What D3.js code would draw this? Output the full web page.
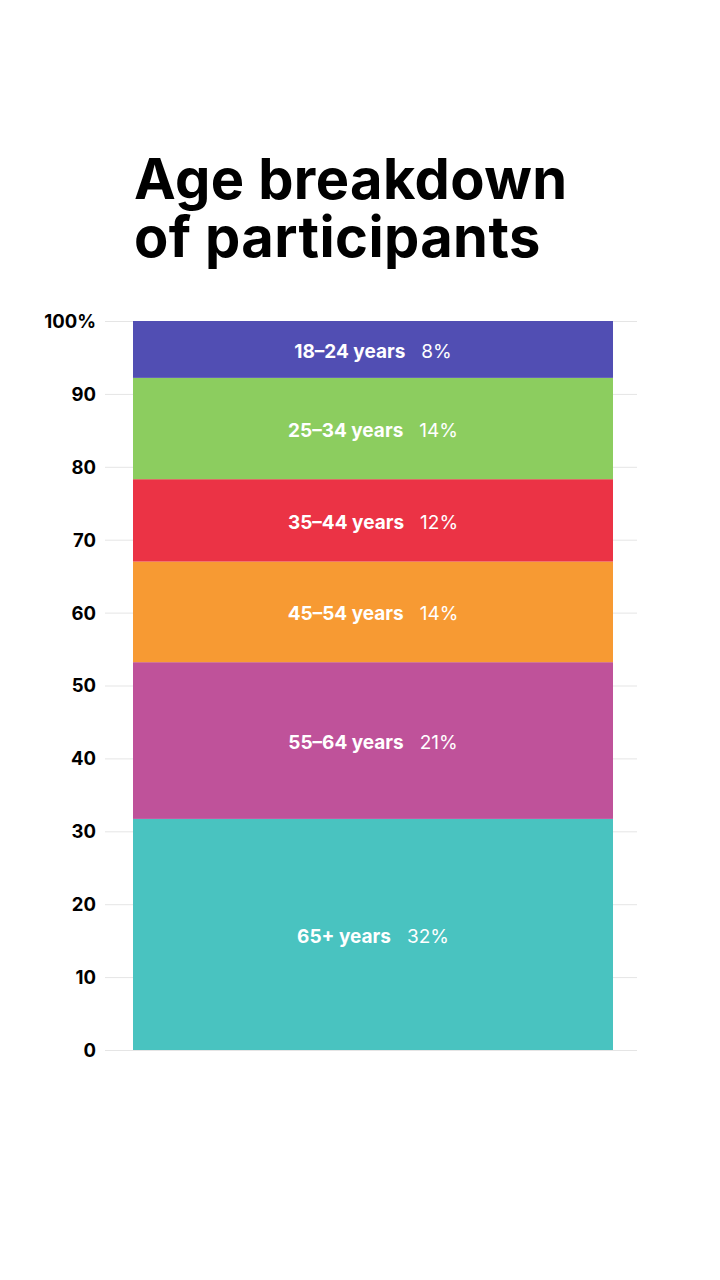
<!DOCTYPE html>
<html><head><meta charset="utf-8">
<script src="https://cdn.jsdelivr.net/npm/d3@7"></script>
<style>
html,body{margin:0;padding:0;background:#fff;}
svg{display:block;}
</style></head>
<body>
<svg id="chart" width="720" height="1280"></svg>
<script>
const categories = ["65+ years","55–64 years","45–54 years","35–44 years","25–34 years","18–24 years"];
const values = [31.7, 21.5, 13.8, 11.3, 13.9, 7.8];
const valueLabels = ["32%","21%","14%","12%","14%","8%"];
const colors = ["#49c3c0","#bf529a","#f79a33","#eb3345","#8ccd5f","#514eb3"];
const yTicks = [0,10,20,30,40,50,60,70,80,90,100];
const titleLines = ["Age breakdown","of participants"];

const svg = d3.select("#chart");
const font = "Inter, 'Noto Sans', sans-serif";

const title = svg.append("text")
  .attr("font-family", font).attr("font-weight", 700).attr("font-size", 56)
  .attr("letter-spacing", 0.4).attr("fill", "#000");
title.selectAll("tspan").data(titleLines).join("tspan")
  .attr("x", 134).attr("y", (d,i)=>199 + i*58).text(d=>d);

const y = d3.scaleLinear().domain([0,100]).range([1050,321]);
const x = d3.scaleBand().domain(["all"]).range([133,613]).padding(0);

// grid
svg.append("g").selectAll("line").data(yTicks).join("line")
  .attr("x1",105).attr("x2",637)
  .attr("y1",d=>y(d)+0.5).attr("y2",d=>y(d)+0.5)
  .attr("stroke","#e5e5e5").attr("stroke-width",1);

// axis
const axis = d3.axisLeft(y).tickValues(yTicks).tickSize(0).tickPadding(0)
  .tickFormat(d=> d===100 ? "100%" : d);
const ax = svg.append("g").attr("transform","translate(96,0)").call(axis);
ax.select(".domain").remove();
ax.selectAll("text").attr("font-family",font).attr("font-weight",700)
  .attr("font-size",18.5).attr("fill","#000").attr("dy","0.35em");

// stack
const row = {};
categories.forEach((c,i)=>row[c]=values[i]);
const stacked = d3.stack().keys(categories)([row]);
const color = d3.scaleOrdinal().domain(categories).range(colors);

const seg = svg.append("g").selectAll("g").data(stacked).join("g");
seg.append("rect")
  .attr("x", x("all")).attr("width", x.bandwidth())
  .attr("y", d=>y(d[0][1])).attr("height", d=>y(d[0][0])-y(d[0][1]))
  .attr("fill", d=>color(d.key));

seg.each(function(d,i){
  const g = d3.select(this);
  const cy = (y(d[0][0])+y(d[0][1]))/2;
  const t = g.append("text").attr("y", cy).attr("dy","0.45em")
    .attr("font-family",font).attr("font-size",19).attr("fill","#fff");
  t.append("tspan").attr("font-weight",700).text(d.key);
  t.append("tspan").attr("font-weight",400).attr("dx",16).text(valueLabels[i]);
  const w = t.node().getComputedTextLength();
  t.attr("x", x("all")+x.bandwidth()/2 - (w+16)/2);
});
</script>
</body></html>
